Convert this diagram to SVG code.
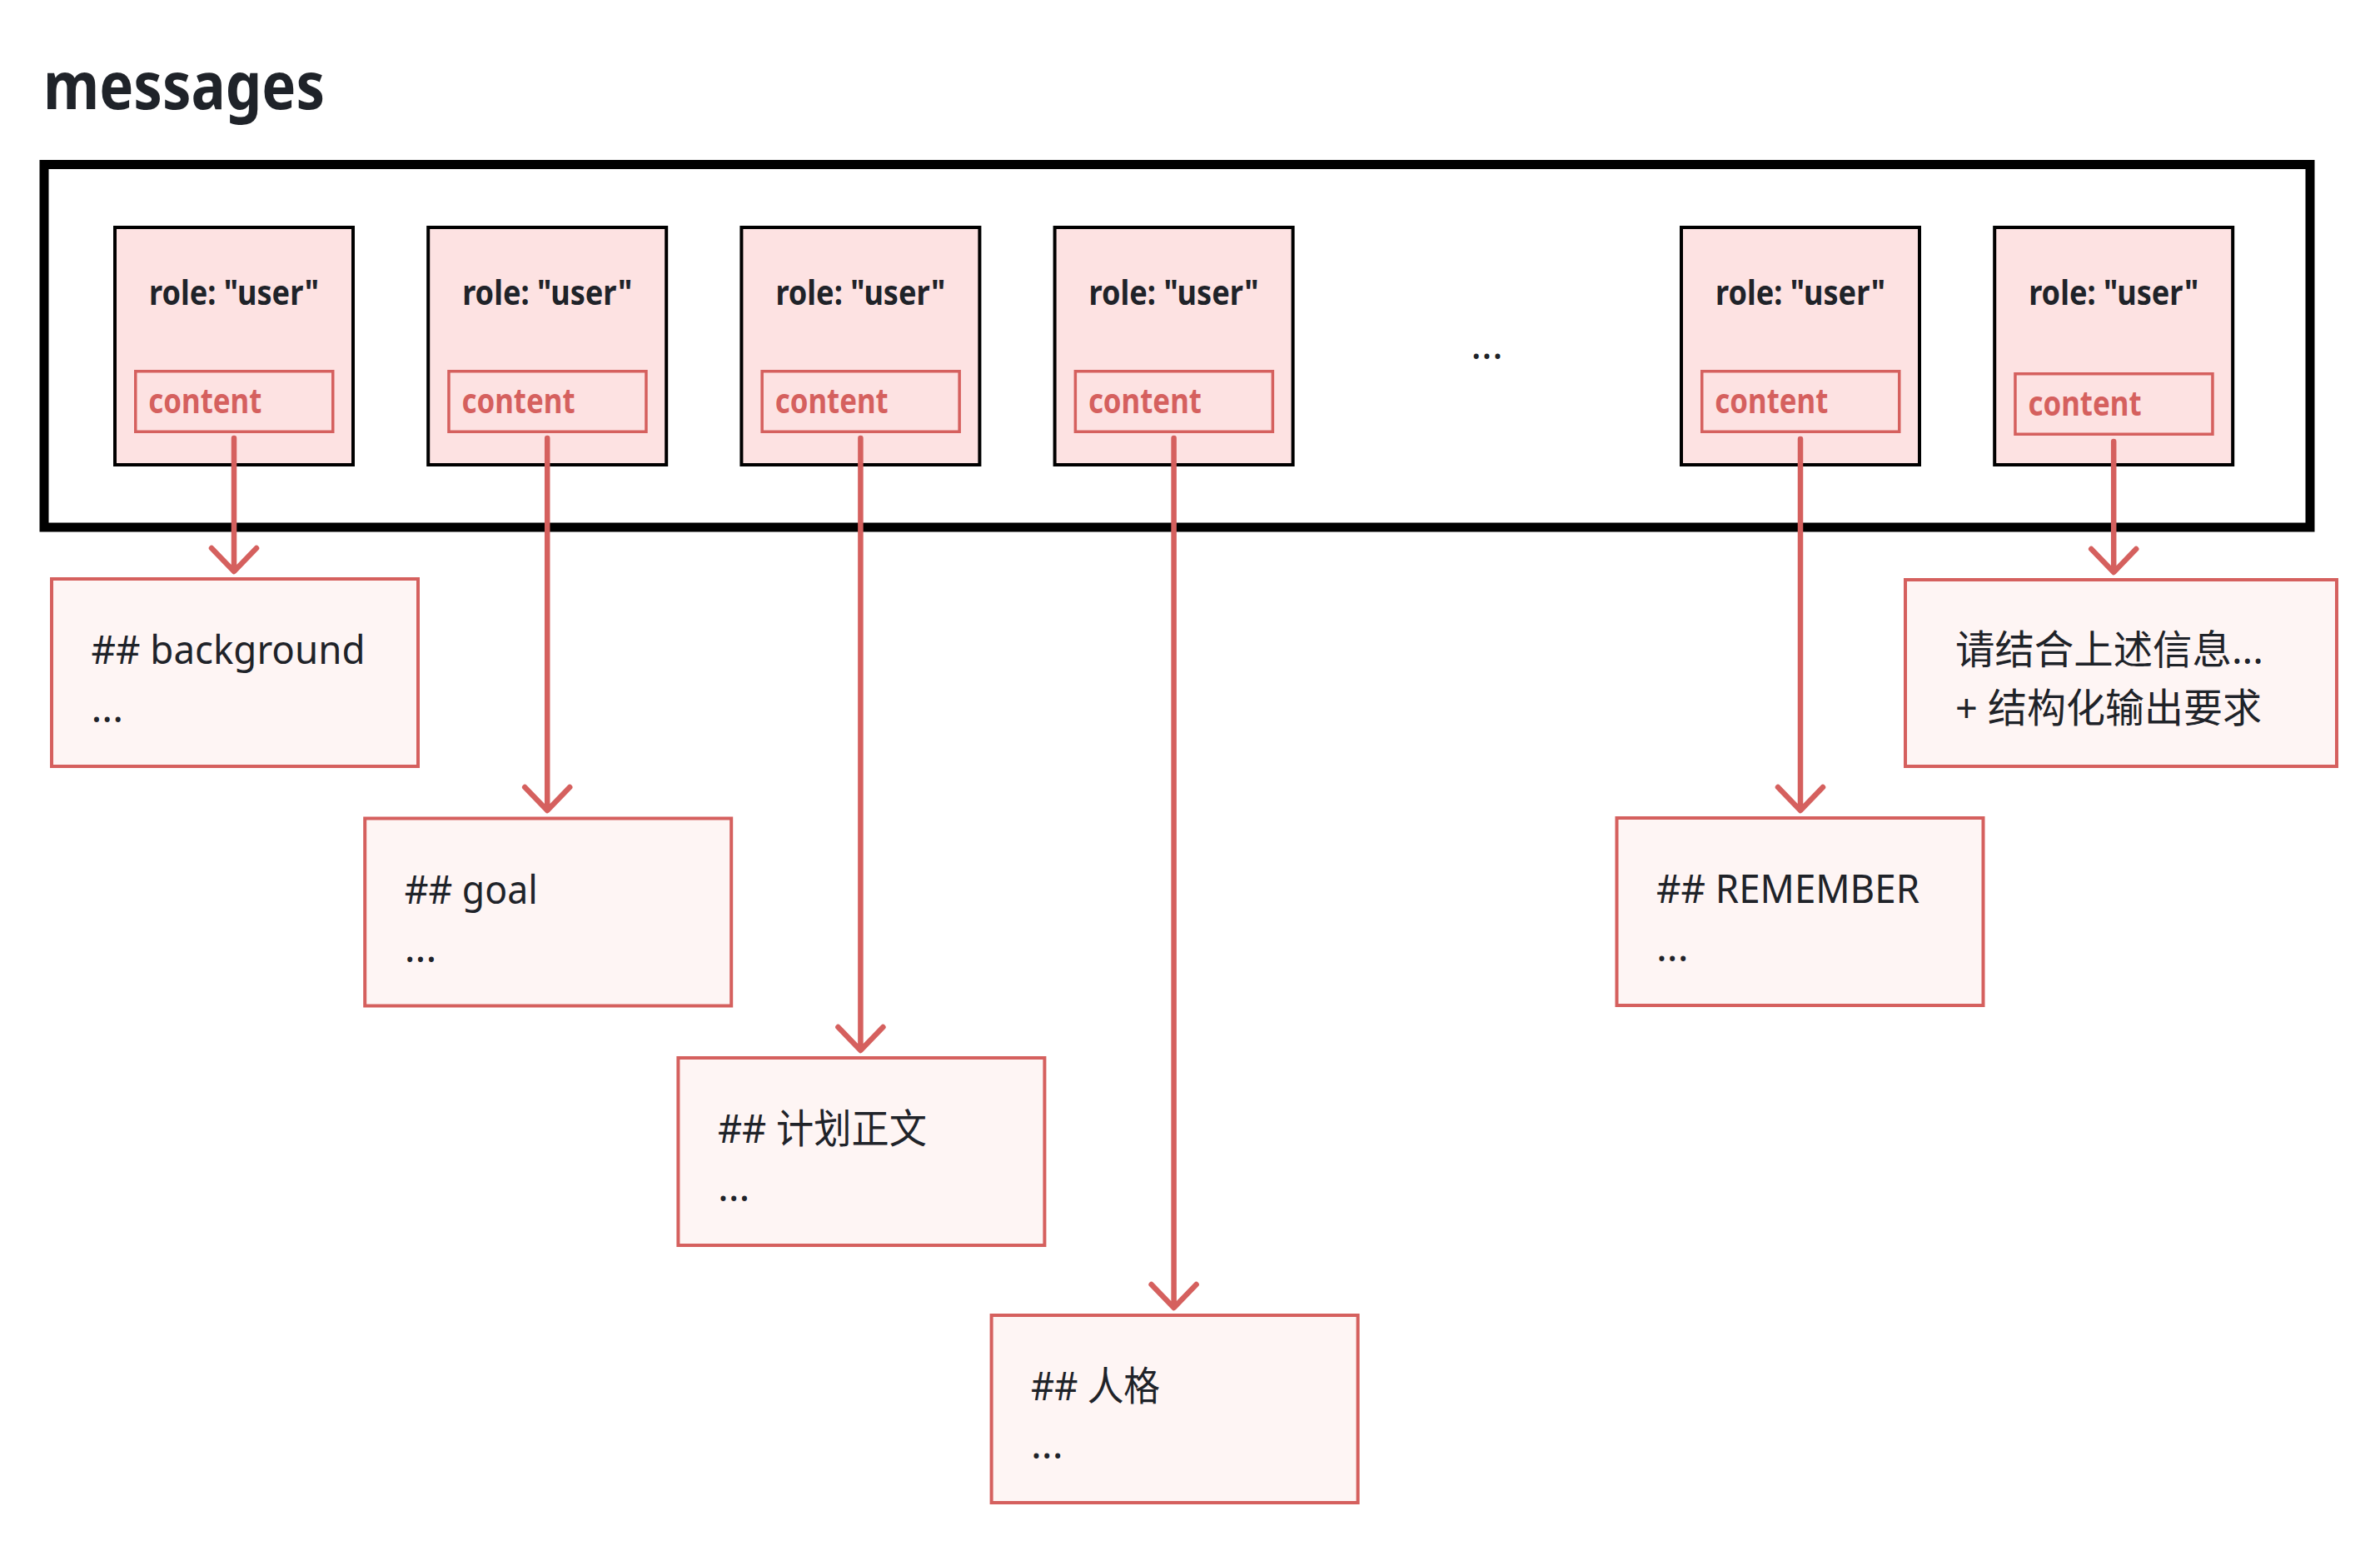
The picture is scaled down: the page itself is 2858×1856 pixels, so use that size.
<svg xmlns="http://www.w3.org/2000/svg" width="2858" height="1856" viewBox="0 0 2858 1856">
<style>
.title{font-family:"Noto Sans","Noto Sans CJK SC",sans-serif;font-weight:700;font-size:79px;fill:#1f2329}
.msg{fill:#fde2e2;stroke:#000;stroke-width:4}
.cbox{fill:none;stroke:#d5605e;stroke-width:3.5}
.role{font-family:"Noto Sans","Noto Sans CJK SC",sans-serif;font-weight:700;font-size:42px;fill:#1f2329;text-anchor:middle}
.ctext{font-family:"Noto Sans","Noto Sans CJK SC",sans-serif;font-weight:700;font-size:42px;fill:#d5605e}
.tbox{fill:#fef5f4;stroke:#d5605e;stroke-width:4}
.t{font-family:"Noto Sans","Noto Sans CJK SC",sans-serif;font-size:48px;fill:#1f2329}
.dots{font-family:"Noto Sans",sans-serif;font-size:48px;fill:#1f2329}
.conn{fill:none;stroke:#d5605e;stroke-width:6.5;stroke-linecap:round;stroke-linejoin:round}
</style>
<rect width="2858" height="1856" fill="#ffffff"/>
<text class="title" x="52" y="131" textLength="338" lengthAdjust="spacingAndGlyphs">messages</text>
<g id="messages-container">
<rect x="53" y="197.5" width="2721" height="435.5" fill="none" stroke="#000" stroke-width="11"/>
<text class="dots" x="1785.5" y="431" text-anchor="middle">...</text>
</g>
<g id="msg1">
<rect class="msg" x="138" y="273" width="286" height="285"/>
<text class="role" x="281" y="366" textLength="204" lengthAdjust="spacingAndGlyphs">role: "user"</text>
<rect class="cbox" x="162.75" y="445.75" width="237" height="72.5"/>
<text class="ctext" x="178.3" y="496" textLength="136" lengthAdjust="spacingAndGlyphs">content</text>
</g>
<g id="msg2">
<rect class="msg" x="514.2" y="273" width="286" height="285"/>
<text class="role" x="657.2" y="366" textLength="204" lengthAdjust="spacingAndGlyphs">role: "user"</text>
<rect class="cbox" x="538.95" y="445.75" width="237" height="72.5"/>
<text class="ctext" x="554.5" y="496" textLength="136" lengthAdjust="spacingAndGlyphs">content</text>
</g>
<g id="msg3">
<rect class="msg" x="890.4" y="273" width="286" height="285"/>
<text class="role" x="1033.4" y="366" textLength="204" lengthAdjust="spacingAndGlyphs">role: "user"</text>
<rect class="cbox" x="915.15" y="445.75" width="237" height="72.5"/>
<text class="ctext" x="930.7" y="496" textLength="136" lengthAdjust="spacingAndGlyphs">content</text>
</g>
<g id="msg4">
<rect class="msg" x="1266.6" y="273" width="286" height="285"/>
<text class="role" x="1409.6" y="366" textLength="204" lengthAdjust="spacingAndGlyphs">role: "user"</text>
<rect class="cbox" x="1291.35" y="445.75" width="237" height="72.5"/>
<text class="ctext" x="1306.9" y="496" textLength="136" lengthAdjust="spacingAndGlyphs">content</text>
</g>
<g id="msg5">
<rect class="msg" x="2019" y="273" width="286" height="285"/>
<text class="role" x="2162" y="366" textLength="204" lengthAdjust="spacingAndGlyphs">role: "user"</text>
<rect class="cbox" x="2043.75" y="445.75" width="237" height="72.5"/>
<text class="ctext" x="2059.3" y="496" textLength="136" lengthAdjust="spacingAndGlyphs">content</text>
</g>
<g id="msg6">
<rect class="msg" x="2395.2" y="273" width="286" height="285"/>
<text class="role" x="2538.2" y="366" textLength="204" lengthAdjust="spacingAndGlyphs">role: "user"</text>
<rect class="cbox" x="2419.95" y="448.75" width="237" height="72.5"/>
<text class="ctext" x="2435.5" y="499" textLength="136" lengthAdjust="spacingAndGlyphs">content</text>
</g>
<g id="box-background">
<rect class="tbox" x="62" y="695" width="440" height="225"/>
<text class="t" x="109.5" y="797" textLength="329" lengthAdjust="spacingAndGlyphs">## background</text>
<text class="dots" x="109.5" y="867">...</text>
</g>
<g id="box-goal">
<rect class="tbox" x="438.2" y="982.5" width="440" height="225"/>
<text class="t" x="485.7" y="1084.5" textLength="160" lengthAdjust="spacingAndGlyphs">## goal</text>
<text class="dots" x="485.7" y="1154.5">...</text>
</g>
<g id="box-plan">
<rect class="tbox" x="814.4" y="1270" width="440" height="225"/>
<text class="t" x="861.9" y="1372" textLength="251" lengthAdjust="spacingAndGlyphs">## 计划正文</text>
<text class="dots" x="861.9" y="1442">...</text>
</g>
<g id="box-persona">
<rect class="tbox" x="1190.6" y="1579" width="440" height="225"/>
<text class="t" x="1238" y="1681" textLength="155" lengthAdjust="spacingAndGlyphs">## 人格</text>
<text class="dots" x="1238" y="1751">...</text>
</g>
<g id="box-remember">
<rect class="tbox" x="1941.5" y="982" width="440" height="225"/>
<text class="t" x="1989" y="1083.5" textLength="316" lengthAdjust="spacingAndGlyphs">## REMEMBER</text>
<text class="dots" x="1989" y="1153.5">...</text>
</g>
<g id="box-final">
<rect class="tbox" x="2288" y="696" width="518" height="224"/>
<text class="t" x="2348" y="797" textLength="370" lengthAdjust="spacingAndGlyphs">请结合上述信息...</text>
<text class="t" x="2348" y="867" textLength="368" lengthAdjust="spacingAndGlyphs">+ 结构化输出要求</text>
</g>
<g id="connectors">
<path class="conn" d="M281 526V685M254 658L281 686L308 658"/>
<path class="conn" d="M657.2 526V972M630.2 945L657.2 973L684.2 945"/>
<path class="conn" d="M1033.4 526V1260M1006.4 1233L1033.4 1261L1060.4 1233"/>
<path class="conn" d="M1409.6 526V1569M1382.6 1542L1409.6 1570L1436.6 1542"/>
<path class="conn" d="M2162 527V972M2135 945L2162 973L2189 945"/>
<path class="conn" d="M2538.2 530V686M2511.2 659L2538.2 687L2565.2 659"/>
</g>
</svg>
